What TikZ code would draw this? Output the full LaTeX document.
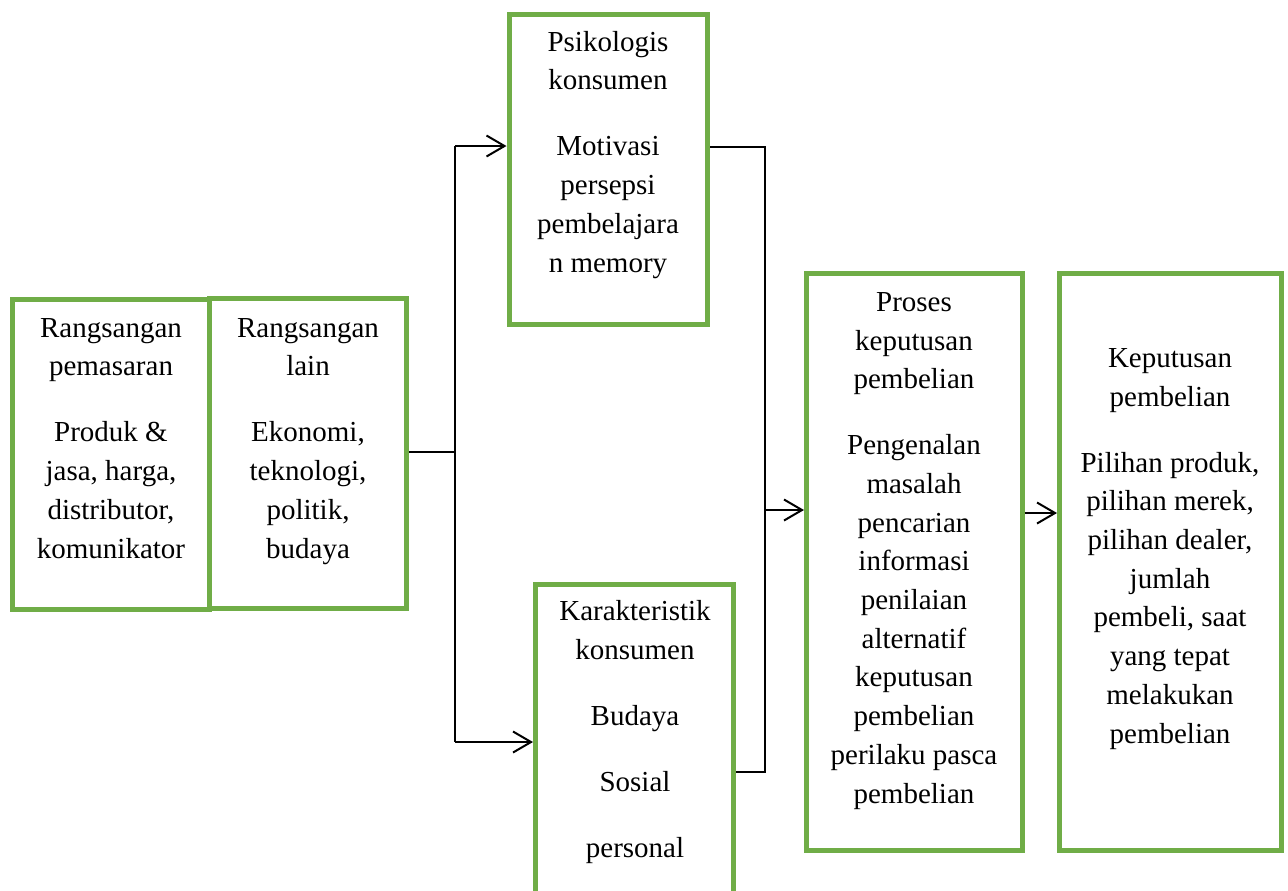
\documentclass[tikz,border=0pt]{standalone}
\usepackage{fontspec}
\setmainfont{Liberation Serif}
\usetikzlibrary{arrows.meta}
\definecolor{boxgreen}{RGB}{112,173,71}
\begin{document}
\begin{tikzpicture}[x=0.5pt,y=-0.5pt,
  gbox/.style={draw=boxgreen,line width=2.5pt,rectangle,inner sep=0pt,fill=none},
  txt/.style={anchor=base,align=center,inner sep=0pt,font=\fontsize{14.5pt}{19.35pt}\selectfont},
  conn/.style={draw=black,line width=1pt},
  arr/.style={conn,-{Straight Barb[length=9pt,width=10.5pt,line width=1pt]}}]
\useasboundingbox (0,0) rectangle (1288,890);
\clip (0,0) rectangle (1288,890);
% boxes
\node[gbox,minimum width=98.5pt,minimum height=155pt] (A) at (111,454) {};
\node[gbox,minimum width=98.5pt,minimum height=155.25pt] (B) at (307.75,453.25) {};
\node[gbox,minimum width=99.25pt,minimum height=155pt] (P) at (608.25,169) {};
\node[gbox,minimum width=99pt,minimum height=158pt] (K) at (634.5,742) {};
\node[gbox,minimum width=107.75pt,minimum height=288.25pt] (R) at (914.25,561.75) {};
\node[gbox,minimum width=110.75pt,minimum height=288.25pt] (D) at (1170.25,561.75) {};
% texts (anchored at the baseline of the last line)
\node[txt] (tA) at (111,558) {Rangsangan\\pemasaran\\[13.65pt]Produk \&\\jasa, harga,\\distributor,\\komunikator};
\node[txt] (tB) at (308,558) {Rangsangan\\lain\\[13.65pt]Ekonomi,\\teknologi,\\politik,\\budaya};
\node[txt] (tP) at (608,272) {Psikologis\\konsumen\\[13.65pt]Motivasi\\persepsi\\pembelajara\\n memory};
\node[txt] (tK) at (635,857) {Karakteristik\\konsumen\\[13.65pt]Budaya\\[13.65pt]Sosial\\[13.65pt]personal};
\node[txt] (tR) at (914,803) {Proses\\keputusan\\pembelian\\[13.65pt]Pengenalan\\masalah\\pencarian\\informasi\\penilaian\\alternatif\\keputusan\\pembelian\\perilaku pasca\\pembelian};
\node[txt] (tD) at (1170,743) {Keputusan\\pembelian\\[13.65pt]Pilihan produk,\\pilihan merek,\\pilihan dealer,\\jumlah\\pembeli, saat\\yang tepat\\melakukan\\pembelian};
% connector points
\coordinate (j1) at (455,452);
\coordinate (jt) at (455,146);
\coordinate (jb) at (455,742);
\coordinate (m1) at (765,147);
\coordinate (m2) at (765,772);
\coordinate (m3) at (765,510);
\coordinate (m4) at (1040,513);
% connectors
\draw[conn] (j1 -| B.east) -- (j1);
\draw[conn] (jt) -- (jb);
\draw[arr] (jt) -- (jt -| P.west);
\draw[arr] (jb) -- (jb -| K.west);
\draw[conn] (m1 -| P.east) -- (m1) -- (m2) -- (m2 -| K.east);
\draw[arr] (m3) -- (m3 -| R.west);
\draw[arr] (m4 -| R.east) -- (m4 -| D.west);
\end{tikzpicture}
\end{document}
